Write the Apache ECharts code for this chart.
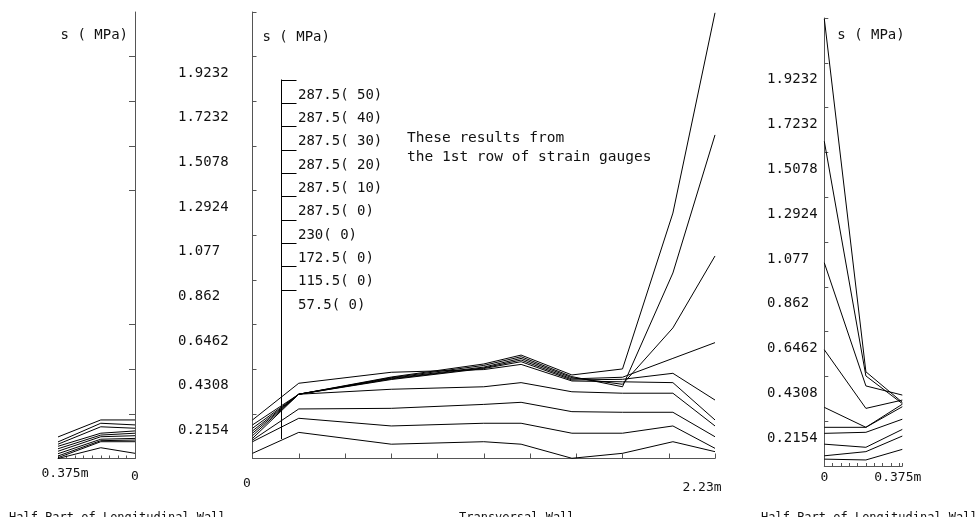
<!DOCTYPE html>
<html><head><meta charset="utf-8">
<script src="https://cdn.jsdelivr.net/npm/echarts@6/dist/echarts.min.js"></script>
<style>html,body{margin:0;padding:0;background:#fff}#c{width:977px;height:517px}</style>
</head><body><div id="c"></div>
<script>
// ---------- data ----------
const seriesNames = ['287.5( 50)', '287.5( 40)', '287.5( 30)', '287.5( 20)', '287.5( 10)',
                     '287.5( 0)', '230( 0)', '172.5( 0)', '115.5( 0)', '57.5( 0)'];

// y ticks (MPa)
const yStep = 0.2154;
const yMax = 2.154;
const yTickLabels = ['0.2154', '0.4308', '0.6462', '0.862', '1.077', '1.2924', '1.5078', '1.7232', '1.9232'];
const leftTickValues = [0.2154, 0.4308, 0.6462, 1.2924, 1.5078, 1.7232, 1.9386];

// left panel: half part of longitudinal wall (x in m, drawn reversed)
const leftX = [0.375, 0.1667, 0];
const leftS50 = [0.080, 0.170, 0.162];
const leftS40 = [0.069, 0.153, 0.146];
const leftS30 = [0.059, 0.122, 0.133];
const leftS20 = [0.047, 0.113, 0.122];
const leftS10 = [0.035, 0.105, 0.110];
const leftS0 = [0.104, 0.186, 0.186];
const left230 = [0.023, 0.093, 0.097];
const left172 = [0.012, 0.086, 0.089];
const left115 = [0.004, 0.081, 0.081];
const left57 = [0.000, 0.052, 0.025];

// middle panel: transversal wall
const transX = [0, 0.223, 0.669, 1.115, 1.295, 1.54, 1.784, 2.027, 2.23];
const transS50 = [0.162, 0.310, 0.393, 0.456, 0.499, 0.403, 0.432, 1.184, 2.150];
const transS40 = [0.146, 0.310, 0.390, 0.449, 0.491, 0.395, 0.346, 0.895, 1.561];
const transS30 = [0.133, 0.310, 0.387, 0.441, 0.483, 0.390, 0.358, 0.630, 0.977];
const transS20 = [0.122, 0.310, 0.384, 0.437, 0.475, 0.384, 0.392, 0.483, 0.559];
const transS10 = [0.110, 0.310, 0.381, 0.434, 0.467, 0.379, 0.382, 0.411, 0.282];
const transS0 = [0.186, 0.363, 0.416, 0.429, 0.454, 0.374, 0.370, 0.366, 0.186];
const trans230 = [0.097, 0.310, 0.334, 0.346, 0.366, 0.322, 0.315, 0.315, 0.157];
const trans172 = [0.089, 0.239, 0.242, 0.261, 0.271, 0.226, 0.223, 0.223, 0.105];
const trans115 = [0.081, 0.194, 0.157, 0.170, 0.170, 0.122, 0.122, 0.157, 0.049];
const trans57 = [0.025, 0.126, 0.069, 0.081, 0.069, 0.001, 0.025, 0.081, 0.033];

// right panel: half part of longitudinal wall
const rightX = [0, 0.2, 0.375];
const rightS50 = [2.150, 0.453, 0.306];
const rightS40 = [1.561, 0.433, 0.300];
const rightS30 = [0.977, 0.385, 0.341];
const rightS20 = [0.559, 0.277, 0.317];
const rightS10 = [0.282, 0.186, 0.297];
const rightS0 = [0.186, 0.186, 0.285];
const right230 = [0.157, 0.162, 0.225];
const right172 = [0.105, 0.090, 0.176];
const right115 = [0.049, 0.069, 0.144];
const right57 = [0.033, 0.029, 0.080];

const leftSets = [leftS50, leftS40, leftS30, leftS20, leftS10, leftS0, left230, left172, left115, left57];
const transSets = [transS50, transS40, transS30, transS20, transS10, transS0, trans230, trans172, trans115, trans57];
const rightSets = [rightS50, rightS40, rightS30, rightS20, rightS10, rightS0, right230, right172, right115, right57];

// ---------- chart ----------
const MONO = '"DejaVu Sans Mono", "Liberation Mono", monospace';
const TXT = '#111';
const AX = '#555';

function yLab(v) {
  const k = Math.round(v / yStep);
  return (k >= 1 && k <= 9) ? yTickLabels[k - 1] : '';
}
function pairs(xs, ys) { return xs.map((x, i) => [x, ys[i]]); }

const series = [];
seriesNames.forEach((name, i) => {
  [[0, leftX, leftSets], [1, transX, transSets], [2, rightX, rightSets]].forEach(([g, xs, sets]) => {
    series.push({
      name: name, type: 'line', xAxisIndex: g, yAxisIndex: g,
      data: pairs(xs, sets[i]), showSymbol: false, symbol: 'none', silent: true,
      lineStyle: { color: '#000', width: 1 }, z: 3
    });
  });
});

const yCommon = {
  type: 'value', min: 0, max: yMax, interval: yStep,
  splitLine: { show: false },
  axisLine: { show: true, lineStyle: { color: AX, width: 1 } },
  nameLocation: 'end',
  nameTextStyle: { fontFamily: MONO, fontSize: 14, color: TXT, verticalAlign: 'middle' }
};
const xCommon = {
  type: 'value', splitLine: { show: false },
  axisLine: { show: true, onZero: false, lineStyle: { color: AX, width: 1 } }
};

const legendGraphics = [];
const legX = 281.5, legTop = 79.5, legStep = 23.35;
legendGraphics.push({ type: 'line', shape: { x1: legX, y1: legTop, x2: legX, y2: 439 },
  style: { stroke: '#000', lineWidth: 1 }, z: 10, silent: true });
seriesNames.forEach((name, k) => {
  const sy = Math.round(legTop + legStep * k) + 0.5;
  legendGraphics.push({ type: 'line', shape: { x1: legX, y1: sy, x2: legX + 15, y2: sy },
    style: { stroke: '#000', lineWidth: 1 }, z: 10, silent: true });
  legendGraphics.push({ type: 'text', x: 298, y: sy + 15, z: 10, silent: true,
    style: { text: name, font: '14px ' + MONO, fill: TXT, textAlign: 'left', textVerticalAlign: 'middle', align: 'left', verticalAlign: 'middle' } });
});

function titleText(x, s) {
  return { type: 'text', x: x, y: 512, silent: true,
    style: { text: s, font: '12px ' + MONO, fill: TXT, textAlign: 'left', textVerticalAlign: 'top', align: 'left', verticalAlign: 'top' } };
}
const textGraphics = [
  { type: 'text', x: 407, y: 128, silent: true,
    style: { text: 'These results from\nthe 1st row of strain gauges', font: '14.5px ' + MONO, fill: TXT,
      lineHeight: 19.5, textAlign: 'left', textVerticalAlign: 'top', align: 'left', verticalAlign: 'top' } },
  titleText(9, 'Half Part of Longitudinal Wall'),
  titleText(459, 'Transversal Wall'),
  titleText(761, 'Half Part of Longitudinal Wall')
];

const xLabelBase = { fontFamily: MONO, fontSize: 13, color: TXT };

const option = {
  animation: false,
  backgroundColor: '#fff',
  grid: [
    { left: 58, right: 842, top: 12, bottom: 58.5 },
    { left: 252.5, right: 262, top: 12, bottom: 58.5 },
    { left: 824.3, right: 74.7, top: 18, bottom: 51 }
  ],
  xAxis: [
    Object.assign({}, xCommon, {
      gridIndex: 0, min: 0, max: 0.375, interval: 0.375 / 9, inverse: true,
      axisTick: { show: true, inside: true, length: 3, lineStyle: { color: AX } },
      axisLabel: {
        show: true, margin: 4, customValues: [0, 0.375], showMinLabel: true, showMaxLabel: true,
        formatter: v => Math.abs(v) < 1e-9 ? '{a|0}' : (Math.abs(v - 0.375) < 1e-6 ? '{b|0.375m}' : ''),
        rich: {
          a: Object.assign({}, xLabelBase, { lineHeight: 29 }),
          b: Object.assign({}, xLabelBase, { lineHeight: 23, padding: [0, 0, 0, 14] })
        }
      }
    }),
    Object.assign({}, xCommon, {
      gridIndex: 1, min: 0, max: 2.23, interval: 0.223,
      axisTick: { show: true, inside: true, length: 5, lineStyle: { color: AX } },
      axisLabel: {
        show: true, margin: 4, customValues: [0, 2.23], showMinLabel: true, showMaxLabel: true,
        formatter: v => Math.abs(v) < 1e-9 ? '{a|0}' : (Math.abs(v - 2.23) < 1e-6 ? '{b|2.23m}' : ''),
        rich: {
          a: Object.assign({}, xLabelBase, { lineHeight: 43, padding: [0, 11, 0, 0] }),
          b: Object.assign({}, xLabelBase, { lineHeight: 51, padding: [0, 26, 0, 0] })
        }
      }
    }),
    Object.assign({}, xCommon, {
      gridIndex: 2, min: 0, max: 0.375, interval: 0.04,
      axisTick: { show: true, inside: true, length: 3, lineStyle: { color: AX } },
      axisLabel: {
        show: true, margin: 4, customValues: [0, 0.375], showMinLabel: true, showMaxLabel: true,
        formatter: v => Math.abs(v) < 1e-9 ? '{a|0}' : (Math.abs(v - 0.375) < 1e-6 ? '{b|0.375m}' : ''),
        rich: {
          a: Object.assign({}, xLabelBase, { lineHeight: 15 }),
          b: Object.assign({}, xLabelBase, { lineHeight: 15, padding: [0, 9, 0, 0] })
        }
      }
    })
  ],
  yAxis: [
    Object.assign({}, yCommon, {
      gridIndex: 0, position: 'right', name: 's ( MPa)', nameGap: -23,
      nameTextStyle: Object.assign({}, yCommon.nameTextStyle, { align: 'right', padding: [0, 7, 0, 0] }),
      axisTick: { show: true, inside: true, length: 6, customValues: leftTickValues, lineStyle: { color: AX } },
      axisLabel: { show: false }
    }),
    Object.assign({}, yCommon, {
      gridIndex: 1, position: 'left', name: 's ( MPa)', nameGap: -25,
      nameTextStyle: Object.assign({}, yCommon.nameTextStyle, { align: 'left', padding: [0, 0, 0, 10] }),
      axisTick: { show: true, inside: true, length: 4, lineStyle: { color: AX } },
      axisLabel: { show: true, formatter: yLab, align: 'left', verticalAlign: 'top', lineHeight: 33, margin: 74.5,
        fontFamily: MONO, fontSize: 14, color: TXT }
    }),
    Object.assign({}, yCommon, {
      gridIndex: 2, position: 'left', name: 's ( MPa)', nameGap: -17,
      nameTextStyle: Object.assign({}, yCommon.nameTextStyle, { align: 'left', padding: [0, 0, 0, 13] }),
      axisTick: { show: true, inside: true, length: 4, lineStyle: { color: AX } },
      axisLabel: { show: true, formatter: yLab, align: 'left', verticalAlign: 'top', lineHeight: 34, margin: 57.3,
        fontFamily: MONO, fontSize: 14, color: TXT }
    })
  ],
  graphic: legendGraphics.concat(textGraphics),
  series: series
};

const chart = echarts.init(document.getElementById('c'), null, { renderer: 'canvas' });
chart.setOption(option);
</script>
</body></html>
